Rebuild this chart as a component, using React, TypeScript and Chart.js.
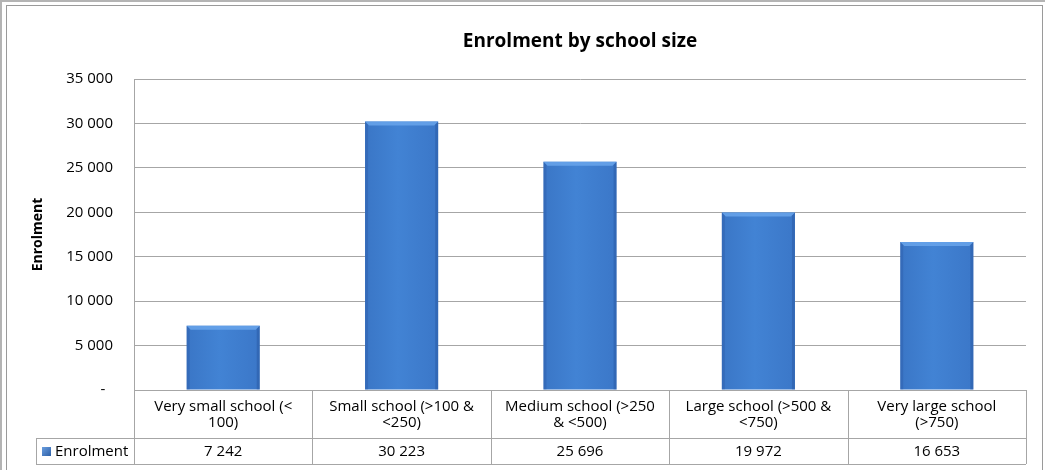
import { useEffect, useRef } from 'react';
import { Chart, registerables, type Plugin, type ScriptableContext } from 'chart.js';

Chart.register(...registerables);

// ── Data ─────────────────────────────────────────────────────────────────────

const TITLE = 'Enrolment by school size';
const SERIES_NAME = 'Enrolment';
const CATEGORIES: string[][] = [
  ['Very small school (<', '100)'],
  ['Small school (>100 &', '<250)'],
  ['Medium school (>250', '& <500)'],
  ['Large school (>500 &', '<750)'],
  ['Very large school', '(>750)'],
];
const ENROLMENT = [7242, 30223, 25696, 19972, 16653];
const Y_MAX = 35000;
const Y_STEP = 5000;

const FONT = '"Open Sans", "Noto Sans", sans-serif';
const GRID = '#a6a6a6';
const BAR_BASE = '#3f7fd0';
const BAR_PCT = 0.41;

function fmt(n: number): string {
  return Math.round(n).toString().replace(/\B(?=(\d{3})+(?!\d))/g, ' ');
}

// ── Frame, title, bevel and data table ──────────────────────────────────────

const excelPlugin: Plugin<'bar'> = {
  id: 'excelLook',
  beforeDraw(chart) {
    const { ctx, width, height } = chart;
    ctx.save();
    ctx.fillStyle = '#ffffff';
    ctx.fillRect(0, 0, width, height);
    // outer sheet lines
    ctx.strokeStyle = '#b4b4b4';
    ctx.lineWidth = 2;
    ctx.beginPath();
    ctx.moveTo(1, height);
    ctx.lineTo(1, 1);
    ctx.lineTo(width, 1);
    ctx.stroke();
    // chart border
    ctx.strokeStyle = '#9a9a9a';
    ctx.lineWidth = 1;
    ctx.strokeRect(6.5, 5.5, width - 9, height + 10);
    ctx.restore();
  },
  afterDatasetsDraw(chart) {
    const { ctx } = chart;
    const meta = chart.getDatasetMeta(0);
    ctx.save();
    meta.data.forEach((el: any) => {
      const { x, y, base, width } = el.getProps(['x', 'y', 'base', 'width'], true);
      const l = x - width / 2;
      const r = x + width / 2;
      const b = 4;
      // top highlight
      ctx.fillStyle = 'rgba(105,165,235,0.85)';
      ctx.beginPath();
      ctx.moveTo(l, y); ctx.lineTo(r, y); ctx.lineTo(r - b, y + b); ctx.lineTo(l + b, y + b);
      ctx.closePath(); ctx.fill();
      // side shading
      ctx.fillStyle = 'rgba(30,70,140,0.22)';
      ctx.beginPath();
      ctx.moveTo(l, y); ctx.lineTo(l + 3, y + 3); ctx.lineTo(l + 3, base); ctx.lineTo(l, base);
      ctx.closePath(); ctx.fill();
      ctx.fillStyle = 'rgba(30,70,140,0.3)';
      ctx.beginPath();
      ctx.moveTo(r, y); ctx.lineTo(r - 3, y + 3); ctx.lineTo(r - 3, base); ctx.lineTo(r, base);
      ctx.closePath(); ctx.fill();
    });
    ctx.restore();
  },
  afterDraw(chart) {
    const { ctx, chartArea } = chart;
    const xs = chart.scales.x;
    const n = CATEGORIES.length;
    const colW = (chartArea.right - chartArea.left) / n;
    const top = chartArea.bottom;
    const mid = top + 48;
    const bot = mid + 26;
    const legendLeft = 36;

    ctx.save();
    // title
    ctx.fillStyle = '#000';
    ctx.textAlign = 'center';
    ctx.textBaseline = 'middle';
    ctx.font = `bold 19px ${FONT}`;
    ctx.fillText(TITLE, (chartArea.left + chartArea.right) / 2, 42);

    // table grid
    ctx.strokeStyle = GRID;
    ctx.lineWidth = 1;
    ctx.beginPath();
    ctx.moveTo(chartArea.left, top + 0.5); ctx.lineTo(chartArea.right, top + 0.5);
    ctx.moveTo(legendLeft, mid + 0.5); ctx.lineTo(chartArea.right, mid + 0.5);
    ctx.moveTo(legendLeft, bot + 0.5); ctx.lineTo(chartArea.right, bot + 0.5);
    ctx.moveTo(legendLeft + 0.5, mid); ctx.lineTo(legendLeft + 0.5, bot);
    for (let i = 0; i <= n; i++) {
      const bx = Math.round(chartArea.left + i * colW) + 0.5;
      ctx.moveTo(bx, top); ctx.lineTo(bx, bot);
    }
    ctx.stroke();

    // category labels and values
    ctx.font = `15px ${FONT}`;
    CATEGORIES.forEach((lines, i) => {
      const cx = xs.getPixelForValue(i);
      lines.forEach((line, k) => ctx.fillText(line, cx, top + 17 + k * 16));
      ctx.fillText(fmt(ENROLMENT[i]), cx, mid + 14);
    });

    // legend key
    const ky = mid + 9;
    const g = ctx.createLinearGradient(42, ky, 51, ky + 9);
    g.addColorStop(0, '#6a9ee0');
    g.addColorStop(1, '#2d5fa6');
    ctx.fillStyle = g;
    ctx.fillRect(42, ky, 9, 9);
    ctx.fillStyle = '#000';
    ctx.textAlign = 'left';
    ctx.fillText(SERIES_NAME, 55, mid + 14);
    ctx.restore();
  },
};

export default function App() {
  const canvasRef = useRef<HTMLCanvasElement>(null);

  useEffect(() => {
    if (!canvasRef.current) return;
    const chart = new Chart(canvasRef.current, {
      type: 'bar',
      data: {
        labels: CATEGORIES,
        datasets: [{
          label: SERIES_NAME,
          data: ENROLMENT,
          barPercentage: BAR_PCT,
          categoryPercentage: 1,
          borderWidth: 0,
          backgroundColor: (c: ScriptableContext<'bar'>) => {
            const ch = c.chart;
            const xs = ch.scales.x;
            if (!ch.chartArea || !xs || c.type !== 'data') return BAR_BASE;
            const cx = xs.getPixelForValue(c.dataIndex);
            const half = (xs.width / CATEGORIES.length) * BAR_PCT / 2;
            const g = ch.ctx.createLinearGradient(cx - half, 0, cx + half, 0);
            g.addColorStop(0, '#3a76c6');
            g.addColorStop(0.45, '#4283d4');
            g.addColorStop(1, '#3b77c8');
            return g;
          },
        }],
      },
      options: {
        responsive: false,
        animation: false,
        layout: { padding: { left: 0, right: 19, top: 79, bottom: 80 } },
        plugins: {
          legend: { display: false },
          tooltip: { enabled: false },
        },
        scales: {
          x: { display: false },
          y: {
            min: 0,
            max: Y_MAX,
            afterFit: (s: any) => { s.width = 134; },
            grid: { color: GRID, drawTicks: false, lineWidth: 1 },
            border: { color: GRID },
            ticks: {
              stepSize: Y_STEP,
              padding: 21,
              color: '#000',
              font: { family: FONT, size: 15 },
              callback: (v: any) => (Number(v) === 0 ? '-  ' : fmt(Number(v))),
            },
            title: {
              display: true,
              text: SERIES_NAME,
              color: '#000',
              font: { family: FONT, size: 14, weight: 'bold' },
              padding: { top: 30, bottom: 0 },
            },
          },
        },
      },
      plugins: [excelPlugin],
    });
    return () => chart.destroy();
  }, []);

  return (
    <div style={{ position: 'absolute', left: 0, top: 0, width: 1045, height: 470 }}>
      <canvas ref={canvasRef} width={1045} height={470} />
    </div>
  );
}
